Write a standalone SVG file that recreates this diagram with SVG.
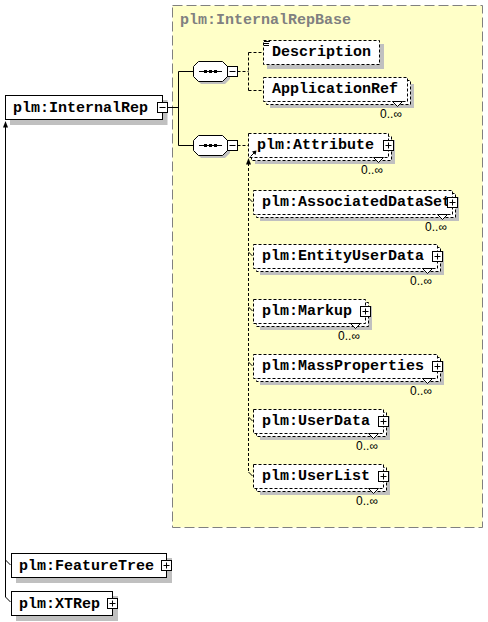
<svg xmlns="http://www.w3.org/2000/svg" width="488" height="622" viewBox="0 0 488 622">
<style>
.t{font-family:"Liberation Mono","Courier New",monospace;font-weight:bold;font-size:15px;fill:#000}
.title{font-family:"Liberation Mono","Courier New",monospace;font-weight:bold;font-size:15px;fill:#808080}
.occ{font-family:"Liberation Sans",Arial,sans-serif;font-size:12px;fill:#000;text-anchor:end}
.sh{fill:#c0c0c0;stroke:none}
.box{fill:#fff;stroke:#000;stroke-width:1}
.dbox{fill:#fff;stroke:#000;stroke-width:1;stroke-dasharray:3,2}
.ln{fill:none;stroke:#000;stroke-width:1}
.dln{fill:none;stroke:#000;stroke-width:1;stroke-dasharray:3,2}
.pm{fill:#fff;stroke:#000;stroke-width:1}
.notch{fill:#fff;stroke:#000;stroke-width:1}
</style>
<defs>
<g id="plus"><rect class="pm" x="0.5" y="0.5" width="10" height="10"/><path class="ln" d="M2.5 5.5H8.5M5.5 2.5V8.5"/></g>
<g id="minus"><rect class="pm" x="0.5" y="0.5" width="10" height="10"/><path class="ln" d="M2.5 5.5H8.5"/></g>
<g id="seq">
<polygon class="sh" points="201,64 225,64 230,69 230,79 225,84 201,84 196,79 196,69"/>
<polygon class="box" points="198.5,61.5 222.5,61.5 227.5,66.5 227.5,76.5 222.5,81.5 198.5,81.5 193.5,76.5 193.5,66.5"/>
<path class="ln" d="M199 71.5H222"/>
<rect x="204" y="70" width="3" height="3" fill="#000"/>
<rect x="209" y="70" width="3" height="3" fill="#000"/>
<rect x="214" y="70" width="3" height="3" fill="#000"/>
<use href="#minus" x="227" y="66"/>
</g>
</defs>

<rect x="172.5" y="5.5" width="310" height="522" fill="#ffffc8" stroke="#808080" stroke-width="1" stroke-dasharray="10,4"/>
<text class="title" x="180" y="24">plm:InternalRepBase</text>

<g id="connectors">
<path class="ln" d="M167.5 107.5H178.5M178.5 71.5V145.5M178.5 71.5H193.5M178.5 145.5H193.5"/>
<path class="dln" d="M237.5 71.5H248.5M248.5 52.5V90.5M248.5 52.5H263.5M248.5 90.5H263.5"/>
<path class="dln" d="M237.5 145.5H248.5"/>
<path class="dln" d="M248.5 163V472"/>
<polygon points="248.5,158 246,164.5 251,164.5" fill="#000"/>
<path class="ln" d="M248.5 198L252.5 202M248.5 252L252.5 256M248.5 307L252.5 311M248.5 362L252.5 366M248.5 417L252.5 421M248.5 472L252.5 476"/>
<path class="ln" d="M5.5 126V597"/>
<polygon points="5.5,121 3,127.5 8,127.5" fill="#000"/>
<path class="ln" d="M5.5 560L10.5 565M5.5 597L10.5 602"/>
</g>

<g id="InternalRep">
<rect class="sh" x="10" y="100" width="157.5" height="25"/>
<rect class="box" x="5.5" y="95.5" width="157" height="24"/>
<text class="t" x="13" y="112">plm:InternalRep</text>
<use href="#minus" x="157" y="102"/>
</g>

<g id="seq1"><use href="#seq"/></g>
<g id="seq2"><use href="#seq" y="74"/></g>

<g id="Description">
<rect class="sh" x="267" y="44" width="117" height="25"/>
<rect class="dbox" x="263.5" y="40.5" width="116" height="24"/>
<path class="ln" d="M264 41.5H270M264 43.5H269M264 45.5H269"/>
<text class="t" x="272" y="56">Description</text>
</g>

<g id="ApplicationRef">
<rect class="sh" x="270" y="84" width="144" height="24"/>
<rect class="dbox" x="266.5" y="80.5" width="144" height="24"/>
<rect class="dbox" x="263.5" y="77.5" width="144" height="24"/>
<polygon class="notch" points="392.5,101.5 397.5,106.5 402.5,101.5"/>
<text class="t" x="272" y="93">ApplicationRef</text>
<text class="occ" x="402" y="118">0..∞</text>
</g>

<g id="Attribute">
<rect class="sh" x="255" y="140" width="140" height="24"/>
<rect class="dbox" x="251.5" y="136.5" width="140" height="24"/>
<rect class="dbox" x="248.5" y="133.5" width="140" height="24"/>
<polygon class="notch" points="373.5,157.5 378.5,162.5 383.5,157.5"/>
<text class="t" x="257" y="149">plm:Attribute</text>
<use href="#plus" x="383" y="140"/>
<path class="ln" d="M250.5 156.5L255 152"/>
<polygon points="256.5,150.5 252,151.5 255.5,155" fill="#000"/>
<text class="occ" x="383" y="174">0..∞</text>
</g>

<g id="AssociatedDataSet">
<rect class="sh" x="260" y="197" width="199" height="24"/>
<rect class="dbox" x="256.5" y="193.5" width="199" height="24"/>
<rect class="dbox" x="253.5" y="190.5" width="199" height="24"/>
<polygon class="notch" points="437.5,214.5 442.5,219.5 447.5,214.5"/>
<text class="t" x="262" y="206">plm:AssociatedDataSet</text>
<use href="#plus" x="447" y="197"/>
<text class="occ" x="447" y="231">0..∞</text>
</g>

<g id="EntityUserData">
<rect class="sh" x="260" y="251" width="184" height="24"/>
<rect class="dbox" x="256.5" y="247.5" width="184" height="24"/>
<rect class="dbox" x="253.5" y="244.5" width="184" height="24"/>
<polygon class="notch" points="422.5,268.5 427.5,273.5 432.5,268.5"/>
<text class="t" x="262" y="260">plm:EntityUserData</text>
<use href="#plus" x="432" y="251"/>
<text class="occ" x="432" y="285">0..∞</text>
</g>

<g id="Markup">
<rect class="sh" x="260" y="306" width="112" height="24"/>
<rect class="dbox" x="256.5" y="302.5" width="112" height="24"/>
<rect class="dbox" x="253.5" y="299.5" width="112" height="24"/>
<polygon class="notch" points="350.5,323.5 355.5,328.5 360.5,323.5"/>
<text class="t" x="262" y="315">plm:Markup</text>
<use href="#plus" x="360" y="306"/>
<text class="occ" x="360" y="340">0..∞</text>
</g>

<g id="MassProperties">
<rect class="sh" x="260" y="361" width="184" height="24"/>
<rect class="dbox" x="256.5" y="357.5" width="184" height="24"/>
<rect class="dbox" x="253.5" y="354.5" width="184" height="24"/>
<polygon class="notch" points="422.5,378.5 427.5,383.5 432.5,378.5"/>
<text class="t" x="262" y="370">plm:MassProperties</text>
<use href="#plus" x="432" y="361"/>
<text class="occ" x="432" y="395">0..∞</text>
</g>

<g id="UserData">
<rect class="sh" x="260" y="416" width="130" height="24"/>
<rect class="dbox" x="256.5" y="412.5" width="130" height="24"/>
<rect class="dbox" x="253.5" y="409.5" width="130" height="24"/>
<polygon class="notch" points="368.5,433.5 373.5,438.5 378.5,433.5"/>
<text class="t" x="262" y="425">plm:UserData</text>
<use href="#plus" x="378" y="416"/>
<text class="occ" x="378" y="450">0..∞</text>
</g>

<g id="UserList">
<rect class="sh" x="260" y="471" width="130" height="24"/>
<rect class="dbox" x="256.5" y="467.5" width="130" height="24"/>
<rect class="dbox" x="253.5" y="464.5" width="130" height="24"/>
<polygon class="notch" points="368.5,488.5 373.5,493.5 378.5,488.5"/>
<text class="t" x="262" y="480">plm:UserList</text>
<use href="#plus" x="378" y="471"/>
<text class="occ" x="378" y="505">0..∞</text>
</g>

<g id="FeatureTree">
<rect class="sh" x="16" y="558" width="156" height="25"/>
<rect class="box" x="11.5" y="553.5" width="155" height="24"/>
<text class="t" x="19" y="570">plm:FeatureTree</text>
<use href="#plus" x="161" y="560"/>
</g>

<g id="XTRep">
<rect class="sh" x="16" y="596" width="102" height="25"/>
<rect class="box" x="11.5" y="591.5" width="101" height="24"/>
<text class="t" x="19" y="608">plm:XTRep</text>
<use href="#plus" x="107" y="598"/>
</g>
</svg>
